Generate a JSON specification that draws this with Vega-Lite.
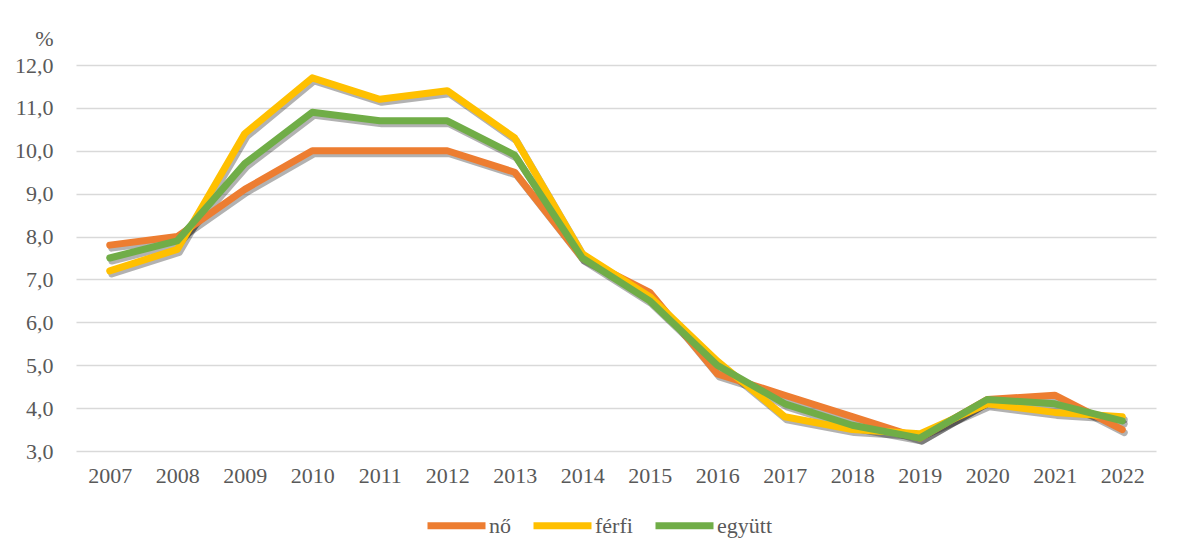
{
  "$schema": "https://vega.github.io/schema/vega-lite/v6.json",
  "autosize": "none",
  "width": 1080,
  "height": 386,
  "padding": {"left": 76, "top": 65, "right": 26, "bottom": 107},
  "background": "white",
  "config": {
    "view": {"stroke": null},
    "font": "Liberation Serif",
    "axis": {"labelFont": "Liberation Serif", "labelFontSize": 22, "labelColor": "#595959", "titleFont": "Liberation Serif"},
    "legend": {"labelFont": "Liberation Serif", "labelFontSize": 22, "labelColor": "#595959"}
  },
  "data": {
    "values": [
      {"ev": "2007", "sor": "nő", "ertek": 7.8}, {"ev": "2008", "sor": "nő", "ertek": 8.0}, {"ev": "2009", "sor": "nő", "ertek": 9.1}, {"ev": "2010", "sor": "nő", "ertek": 10.0}, {"ev": "2011", "sor": "nő", "ertek": 10.0}, {"ev": "2012", "sor": "nő", "ertek": 10.0}, {"ev": "2013", "sor": "nő", "ertek": 9.5}, {"ev": "2014", "sor": "nő", "ertek": 7.5}, {"ev": "2015", "sor": "nő", "ertek": 6.7}, {"ev": "2016", "sor": "nő", "ertek": 4.8}, {"ev": "2017", "sor": "nő", "ertek": 4.3}, {"ev": "2018", "sor": "nő", "ertek": 3.8}, {"ev": "2019", "sor": "nő", "ertek": 3.3}, {"ev": "2020", "sor": "nő", "ertek": 4.2}, {"ev": "2021", "sor": "nő", "ertek": 4.3}, {"ev": "2022", "sor": "nő", "ertek": 3.5},
      {"ev": "2007", "sor": "férfi", "ertek": 7.2}, {"ev": "2008", "sor": "férfi", "ertek": 7.7}, {"ev": "2009", "sor": "férfi", "ertek": 10.4}, {"ev": "2010", "sor": "férfi", "ertek": 11.7}, {"ev": "2011", "sor": "férfi", "ertek": 11.2}, {"ev": "2012", "sor": "férfi", "ertek": 11.4}, {"ev": "2013", "sor": "férfi", "ertek": 10.3}, {"ev": "2014", "sor": "férfi", "ertek": 7.6}, {"ev": "2015", "sor": "férfi", "ertek": 6.6}, {"ev": "2016", "sor": "férfi", "ertek": 5.1}, {"ev": "2017", "sor": "férfi", "ertek": 3.8}, {"ev": "2018", "sor": "férfi", "ertek": 3.5}, {"ev": "2019", "sor": "férfi", "ertek": 3.4}, {"ev": "2020", "sor": "férfi", "ertek": 4.1}, {"ev": "2021", "sor": "férfi", "ertek": 3.9}, {"ev": "2022", "sor": "férfi", "ertek": 3.8},
      {"ev": "2007", "sor": "együtt", "ertek": 7.5}, {"ev": "2008", "sor": "együtt", "ertek": 7.9}, {"ev": "2009", "sor": "együtt", "ertek": 9.7}, {"ev": "2010", "sor": "együtt", "ertek": 10.9}, {"ev": "2011", "sor": "együtt", "ertek": 10.7}, {"ev": "2012", "sor": "együtt", "ertek": 10.7}, {"ev": "2013", "sor": "együtt", "ertek": 9.9}, {"ev": "2014", "sor": "együtt", "ertek": 7.5}, {"ev": "2015", "sor": "együtt", "ertek": 6.5}, {"ev": "2016", "sor": "együtt", "ertek": 5.0}, {"ev": "2017", "sor": "együtt", "ertek": 4.1}, {"ev": "2018", "sor": "együtt", "ertek": 3.6}, {"ev": "2019", "sor": "együtt", "ertek": 3.3}, {"ev": "2020", "sor": "együtt", "ertek": 4.2}, {"ev": "2021", "sor": "együtt", "ertek": 4.1}, {"ev": "2022", "sor": "együtt", "ertek": 3.7}
    ]
  },
  "encoding": {
    "x": {
      "field": "ev", "type": "ordinal", "sort": null,
      "scale": {"type": "point", "padding": 0.5},
      "axis": {"title": null, "labelAngle": 0, "domain": false, "ticks": false, "grid": false, "labelPadding": 14,
        "labelFont": "Liberation Serif", "labelFontSize": 22, "labelColor": "#595959"}
    },
    "y": {
      "field": "ertek", "type": "quantitative",
      "scale": {"domain": [3, 12], "nice": false, "zero": false},
      "axis": {
        "values": [3, 4, 5, 6, 7, 8, 9, 10, 11, 12],
        "labelExpr": "replace(format(datum.value, '.1f'), '.', ',')",
        "labelFont": "Liberation Serif", "labelFontSize": 22, "labelColor": "#595959",
        "domain": false, "ticks": false, "labelPadding": 23,
        "grid": true, "gridColor": "#D9D9D9", "gridWidth": 1.5,
        "title": "%", "titleAngle": 0, "titleX": -32, "titleY": -20,
        "titleAlign": "center", "titleBaseline": "alphabetic",
        "titleFont": "Liberation Serif", "titleFontSize": 22, "titleFontWeight": "normal", "titleColor": "#595959"
      }
    }
  },
  "layer": [
    {
      "mark": {"type": "line", "strokeWidth": 7, "color": "#000000", "opacity": 0.3, "xOffset": 2, "yOffset": 3, "strokeCap": "round", "strokeJoin": "round"},
      "encoding": {"detail": {"field": "sor"}}
    },
    {
      "mark": {"type": "line", "strokeWidth": 7, "strokeCap": "round", "strokeJoin": "round"},
      "encoding": {
        "color": {
          "field": "sor", "type": "nominal",
          "scale": {"domain": ["nő", "férfi", "együtt"], "range": ["#ED7D31", "#FFC000", "#70AD47"]},
          "legend": {
            "title": null, "orient": "none", "direction": "horizontal",
            "legendX": 348, "legendY": 428,
            "symbolType": "stroke", "symbolSize": 3364, "symbolStrokeWidth": 7,
            "labelFont": "Liberation Serif", "labelFontSize": 22, "labelColor": "#595959",
            "labelOffset": 0, "columnPadding": 8, "offset": 0
          }
        },
        "order": {"field": "sor"}
      }
    }
  ]
}
